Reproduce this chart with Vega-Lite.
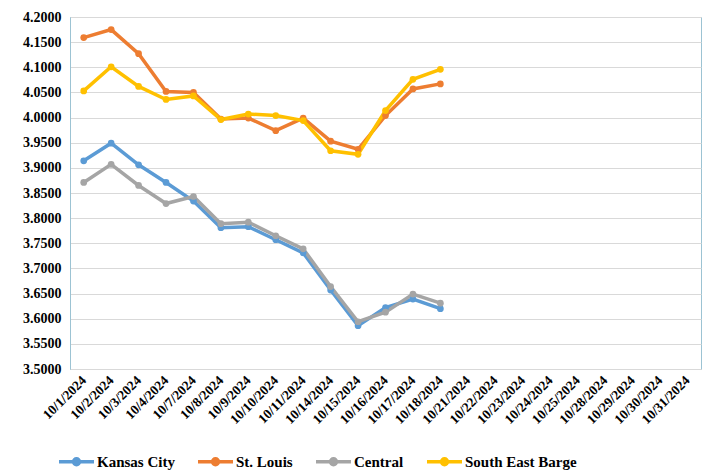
{
  "$schema": "https://vega.github.io/schema/vega-lite/v6.json",
  "autosize": {"type": "none"},
  "padding": {"left": 70, "top": 17, "right": 12, "bottom": 106},
  "width": 631,
  "height": 352,
  "background": "white",
  "config": {
    "font": "Liberation Serif",
    "view": {"stroke": "#9cc3d3", "strokeWidth": 1}
  },
  "datasets": {
    "prices": [
      {"date": "10/1/2024", "series": "Kansas City", "value": 3.914},
      {"date": "10/2/2024", "series": "Kansas City", "value": 3.949},
      {"date": "10/3/2024", "series": "Kansas City", "value": 3.906},
      {"date": "10/4/2024", "series": "Kansas City", "value": 3.871},
      {"date": "10/7/2024", "series": "Kansas City", "value": 3.834},
      {"date": "10/8/2024", "series": "Kansas City", "value": 3.781},
      {"date": "10/9/2024", "series": "Kansas City", "value": 3.783},
      {"date": "10/10/2024", "series": "Kansas City", "value": 3.757},
      {"date": "10/11/2024", "series": "Kansas City", "value": 3.731},
      {"date": "10/14/2024", "series": "Kansas City", "value": 3.657},
      {"date": "10/15/2024", "series": "Kansas City", "value": 3.586},
      {"date": "10/16/2024", "series": "Kansas City", "value": 3.622},
      {"date": "10/17/2024", "series": "Kansas City", "value": 3.639},
      {"date": "10/18/2024", "series": "Kansas City", "value": 3.620},
      {"date": "10/1/2024", "series": "St. Louis", "value": 4.159},
      {"date": "10/2/2024", "series": "St. Louis", "value": 4.175},
      {"date": "10/3/2024", "series": "St. Louis", "value": 4.127},
      {"date": "10/4/2024", "series": "St. Louis", "value": 4.052},
      {"date": "10/7/2024", "series": "St. Louis", "value": 4.050},
      {"date": "10/8/2024", "series": "St. Louis", "value": 3.997},
      {"date": "10/9/2024", "series": "St. Louis", "value": 3.999},
      {"date": "10/10/2024", "series": "St. Louis", "value": 3.974},
      {"date": "10/11/2024", "series": "St. Louis", "value": 3.999},
      {"date": "10/14/2024", "series": "St. Louis", "value": 3.953},
      {"date": "10/15/2024", "series": "St. Louis", "value": 3.937},
      {"date": "10/16/2024", "series": "St. Louis", "value": 4.004},
      {"date": "10/17/2024", "series": "St. Louis", "value": 4.057},
      {"date": "10/18/2024", "series": "St. Louis", "value": 4.067},
      {"date": "10/1/2024", "series": "Central", "value": 3.871},
      {"date": "10/2/2024", "series": "Central", "value": 3.907},
      {"date": "10/3/2024", "series": "Central", "value": 3.865},
      {"date": "10/4/2024", "series": "Central", "value": 3.829},
      {"date": "10/7/2024", "series": "Central", "value": 3.843},
      {"date": "10/8/2024", "series": "Central", "value": 3.789},
      {"date": "10/9/2024", "series": "Central", "value": 3.792},
      {"date": "10/10/2024", "series": "Central", "value": 3.765},
      {"date": "10/11/2024", "series": "Central", "value": 3.739},
      {"date": "10/14/2024", "series": "Central", "value": 3.664},
      {"date": "10/15/2024", "series": "Central", "value": 3.594},
      {"date": "10/16/2024", "series": "Central", "value": 3.613},
      {"date": "10/17/2024", "series": "Central", "value": 3.649},
      {"date": "10/18/2024", "series": "Central", "value": 3.631},
      {"date": "10/1/2024", "series": "South East Barge", "value": 4.053},
      {"date": "10/2/2024", "series": "South East Barge", "value": 4.101},
      {"date": "10/3/2024", "series": "South East Barge", "value": 4.062},
      {"date": "10/4/2024", "series": "South East Barge", "value": 4.036},
      {"date": "10/7/2024", "series": "South East Barge", "value": 4.043},
      {"date": "10/8/2024", "series": "South East Barge", "value": 3.996},
      {"date": "10/9/2024", "series": "South East Barge", "value": 4.007},
      {"date": "10/10/2024", "series": "South East Barge", "value": 4.004},
      {"date": "10/11/2024", "series": "South East Barge", "value": 3.994},
      {"date": "10/14/2024", "series": "South East Barge", "value": 3.934},
      {"date": "10/15/2024", "series": "South East Barge", "value": 3.927},
      {"date": "10/16/2024", "series": "South East Barge", "value": 4.014},
      {"date": "10/17/2024", "series": "South East Barge", "value": 4.076},
      {"date": "10/18/2024", "series": "South East Barge", "value": 4.096}
    ]
  },
  "data": {"name": "prices"},
  "mark": {"type": "line", "strokeWidth": 3.5, "point": {"size": 45, "filled": true}},
  "encoding": {
    "x": {
      "field": "date",
      "type": "ordinal",
      "scale": {
        "domain": ["10/1/2024", "10/2/2024", "10/3/2024", "10/4/2024", "10/7/2024", "10/8/2024", "10/9/2024", "10/10/2024", "10/11/2024", "10/14/2024", "10/15/2024", "10/16/2024", "10/17/2024", "10/18/2024", "10/21/2024", "10/22/2024", "10/23/2024", "10/24/2024", "10/25/2024", "10/28/2024", "10/29/2024", "10/30/2024", "10/31/2024"],
        "type": "point",
        "padding": 0.5
      },
      "axis": {
        "title": null,
        "labelAngle": -45,
        "labelAlign": "right",
        "labelBaseline": "middle",
        "labelFont": "Liberation Serif",
        "labelFontWeight": "bold",
        "labelFontSize": 13.5,
        "labelColor": "#000000",
        "labelPadding": 9,
        "labelOverlap": false,
        "ticks": false,
        "domain": false,
        "grid": false
      }
    },
    "y": {
      "field": "value",
      "type": "quantitative",
      "scale": {"domain": [3.5, 4.2], "nice": false, "zero": false},
      "axis": {
        "title": null,
        "values": [3.5, 3.55, 3.6, 3.65, 3.7, 3.75, 3.8, 3.85, 3.9, 3.95, 4.0, 4.05, 4.1, 4.15, 4.2],
        "format": ".4f",
        "labelFont": "Liberation Serif",
        "labelFontWeight": "bold",
        "labelFontSize": 14,
        "labelColor": "#000000",
        "labelPadding": 9,
        "ticks": false,
        "domain": true,
        "domainColor": "#9cc3d3",
        "grid": true,
        "gridColor": "#d9d9d9",
        "gridWidth": 1
      }
    },
    "color": {
      "field": "series",
      "type": "nominal",
      "sort": ["Kansas City", "St. Louis", "Central", "South East Barge"],
      "scale": {
        "domain": ["Kansas City", "St. Louis", "Central", "South East Barge"],
        "range": ["#5b9bd5", "#ed7d31", "#a5a5a5", "#ffc000"]
      },
      "legend": {
        "title": null,
        "orient": "none",
        "legendX": -13,
        "legendY": 425,
        "direction": "horizontal",
        "symbolType": "M-1,0H1M0.17,0A0.17,0.17,0,1,1,-0.17,0A0.17,0.17,0,1,1,0.17,0",
        "symbolSize": 1225,
        "symbolStrokeWidth": 3.5,
        "labelFont": "Liberation Serif",
        "labelFontWeight": "bold",
        "labelFontSize": 15,
        "labelColor": "#000000",
        "labelOffset": 1,
        "columnPadding": 16,
        "encode": {
          "symbols": {
            "update": {
              "fill": {"scale": "color", "field": "value"},
              "stroke": {"scale": "color", "field": "value"}
            }
          }
        }
      }
    }
  }
}
